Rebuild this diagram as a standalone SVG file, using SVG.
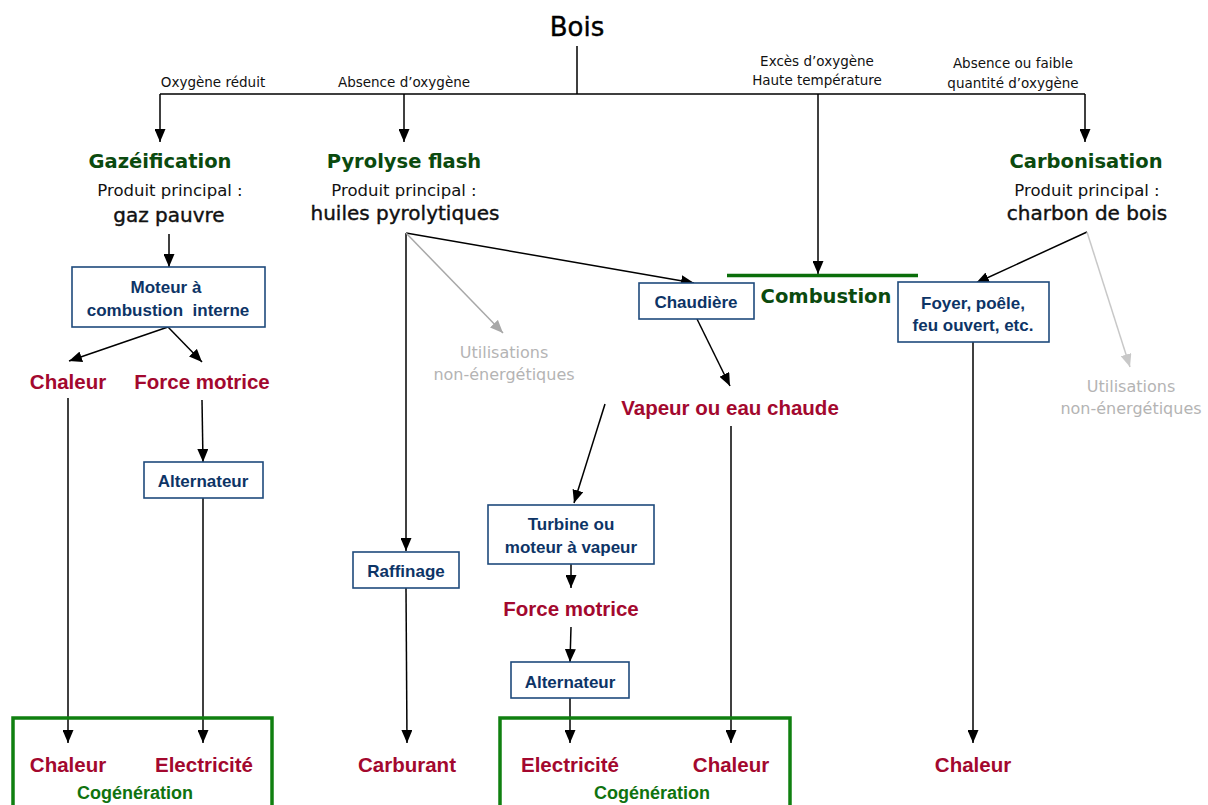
<svg xmlns="http://www.w3.org/2000/svg" width="1208" height="805" viewBox="0 0 1208 805">
<style>
.lbl{font-family:"DejaVu Sans","Liberation Sans",sans-serif;font-size:13.5px;fill:#111;text-anchor:middle}
.ttl{font-family:"DejaVu Sans","Liberation Sans",sans-serif;font-size:19.5px;font-weight:bold;fill:#0b4a0e;text-anchor:middle}
.pp{font-family:"DejaVu Sans","Liberation Sans",sans-serif;font-size:16.5px;fill:#111;text-anchor:middle}
.prod{font-family:"DejaVu Sans","Liberation Sans",sans-serif;font-size:20px;fill:#111;stroke:#111;stroke-width:0.4;text-anchor:middle}
.box{fill:#fff;stroke:#1f4a7c;stroke-width:1.6}
.bt{font-family:"Liberation Sans",Arial,sans-serif;font-size:17px;font-weight:bold;fill:#0d3466;text-anchor:middle}
.red{font-family:"Liberation Sans",Arial,sans-serif;font-size:20.5px;font-weight:bold;fill:#a3082e;text-anchor:middle}
.gray{font-family:"DejaVu Sans","Liberation Sans",sans-serif;font-size:16px;fill:#b4b4b4;text-anchor:middle}
.cog{font-family:"Liberation Sans",Arial,sans-serif;font-size:18px;font-weight:bold;fill:#0f730f;text-anchor:middle}
.cogbox{fill:none;stroke:#108010;stroke-width:3.5}
.ln{fill:none;stroke:#000;stroke-width:1.5}
.arr{fill:none;stroke:#000;stroke-width:1.5;marker-end:url(#ah)}
.garr{fill:none;stroke:#a8a8a8;stroke-width:1.5;marker-end:url(#gh)}
.garr2{fill:none;stroke:#c8c8c8;stroke-width:1.5;marker-end:url(#gh2)}
</style>
<defs>
<marker id="ah" markerUnits="userSpaceOnUse" markerWidth="13" markerHeight="11" refX="13" refY="5.5" orient="auto"><path d="M0,0 L13,5.5 L0,11 z" fill="#000"/></marker>
<marker id="gh" markerUnits="userSpaceOnUse" markerWidth="13" markerHeight="11" refX="13" refY="5.5" orient="auto"><path d="M0,0 L13,5.5 L0,11 z" fill="#a8a8a8"/></marker>
<marker id="gh2" markerUnits="userSpaceOnUse" markerWidth="13" markerHeight="11" refX="13" refY="5.5" orient="auto"><path d="M0,0 L13,5.5 L0,11 z" fill="#c8c8c8"/></marker>
</defs>
<rect width="1208" height="805" fill="#fff"/>

<g id="connectors">
<path class="ln" d="M577,46 V94 M160,94 H1085"/>
<path class="arr" d="M160,94 V142"/>
<path class="arr" d="M404,94 V142"/>
<path class="arr" d="M1085,94 V142"/>
<path class="arr" d="M818,94 V274"/>
<path class="arr" d="M169,234 V267"/>
<path class="arr" d="M168,327 L69,361"/>
<path class="arr" d="M168,327 L202,362"/>
<path class="ln" d="M68,398 V700"/>
<path class="arr" d="M68,700 V743"/>
<path class="arr" d="M202,400 L203,462"/>
<path class="arr" d="M203,498 V743"/>
<path class="arr" d="M406,233 V551"/>
<path class="arr" d="M406,588 L407,743"/>
<path class="arr" d="M406,233 L694,283"/>
<path class="garr" d="M406,233 L503,333"/>
<path class="arr" d="M697,319 L730,386"/>
<path class="arr" d="M605,404 L574,503"/>
<path class="arr" d="M571,564 V588"/>
<path class="arr" d="M571,627 L570,662"/>
<path class="arr" d="M570,698 V743"/>
<path class="arr" d="M731,426 V743"/>
<path class="arr" d="M1087,232 L976,283"/>
<path class="garr2" d="M1087,232 L1130,367"/>
<path class="arr" d="M973,342 V743"/>
<line x1="727" y1="275.5" x2="918" y2="275.5" stroke="#0a6e0a" stroke-width="3.5"/>
</g>

<g id="labels">
<text class="lbl" x="213" y="87">Oxygène réduit</text>
<text class="lbl" x="404" y="87">Absence d’oxygène</text>
<text class="lbl" x="817" y="66">Excès d’oxygène</text>
<text class="lbl" x="817" y="85">Haute température</text>
<text class="lbl" x="1013" y="68">Absence ou faible</text>
<text class="lbl" x="1013" y="88">quantité d’oxygène</text>
</g>

<g id="bois"><text x="577" y="36" font-family="DejaVu Sans, Liberation Sans, sans-serif" font-size="26" fill="#000" stroke="#000" stroke-width="0.4" text-anchor="middle">Bois</text></g>

<g id="gazeification">
<text class="ttl" x="160" y="168">Gazéification</text>
<text class="pp" x="170" y="196">Produit principal :</text>
<text class="prod" x="169" y="222">gaz pauvre</text>
</g>
<g id="pyrolyse">
<text class="ttl" x="404" y="168">Pyrolyse flash</text>
<text class="pp" x="404" y="196">Produit principal :</text>
<text class="prod" x="405" y="220">huiles pyrolytiques</text>
</g>
<g id="carbonisation">
<text class="ttl" x="1086" y="168">Carbonisation</text>
<text class="pp" x="1087" y="196">Produit principal :</text>
<text class="prod" x="1087" y="220">charbon de bois</text>
</g>
<g id="combustion"><text class="ttl" x="826" y="303">Combustion</text></g>

<g id="moteur">
<rect class="box" x="72" y="267" width="193" height="60"/>
<text class="bt" x="166" y="293">Moteur à</text>
<text class="bt" x="168" y="316">combustion&#160; interne</text>
</g>
<g id="chaleur1"><text class="red" x="68" y="389">Chaleur</text></g>
<g id="force1"><text class="red" x="202" y="389">Force motrice</text></g>
<g id="alternateur1">
<rect class="box" x="144" y="462" width="119" height="36"/>
<text class="bt" x="203" y="487">Alternateur</text>
</g>
<g id="utilisations1">
<text class="gray" x="504" y="358">Utilisations</text>
<text class="gray" x="504" y="380">non-énergétiques</text>
</g>
<g id="raffinage">
<rect class="box" x="353" y="552" width="106" height="36"/>
<text class="bt" x="406" y="577">Raffinage</text>
</g>
<g id="chaudiere">
<rect class="box" x="639" y="283" width="115" height="36"/>
<text class="bt" x="696" y="308">Chaudière</text>
</g>
<g id="vapeur"><text class="red" x="730" y="415">Vapeur ou eau chaude</text></g>
<g id="turbine">
<rect class="box" x="488" y="505" width="166" height="59"/>
<text class="bt" x="571" y="530">Turbine ou</text>
<text class="bt" x="571" y="553">moteur à vapeur</text>
</g>
<g id="force2"><text class="red" x="571" y="616">Force motrice</text></g>
<g id="alternateur2">
<rect class="box" x="511" y="662" width="118" height="36"/>
<text class="bt" x="570" y="688">Alternateur</text>
</g>
<g id="foyer">
<rect class="box" x="898" y="282" width="151" height="60"/>
<text class="bt" x="973" y="309">Foyer, poêle,</text>
<text class="bt" x="973" y="331">feu ouvert, etc.</text>
</g>
<g id="utilisations2">
<text class="gray" x="1131" y="392">Utilisations</text>
<text class="gray" x="1131" y="414">non-énergétiques</text>
</g>

<g id="cogeneration1">
<rect class="cogbox" x="13" y="718" width="259" height="100"/>
<text class="red" x="68" y="772">Chaleur</text>
<text class="red" x="204" y="772">Electricité</text>
<text class="cog" x="135" y="799">Cogénération</text>
</g>
<g id="carburant"><text class="red" x="407" y="772">Carburant</text></g>
<g id="cogeneration2">
<rect class="cogbox" x="500" y="718" width="290" height="100"/>
<text class="red" x="570" y="772">Electricité</text>
<text class="red" x="731" y="772">Chaleur</text>
<text class="cog" x="652" y="799">Cogénération</text>
</g>
<g id="chaleur3"><text class="red" x="973" y="772">Chaleur</text></g>
</svg>
